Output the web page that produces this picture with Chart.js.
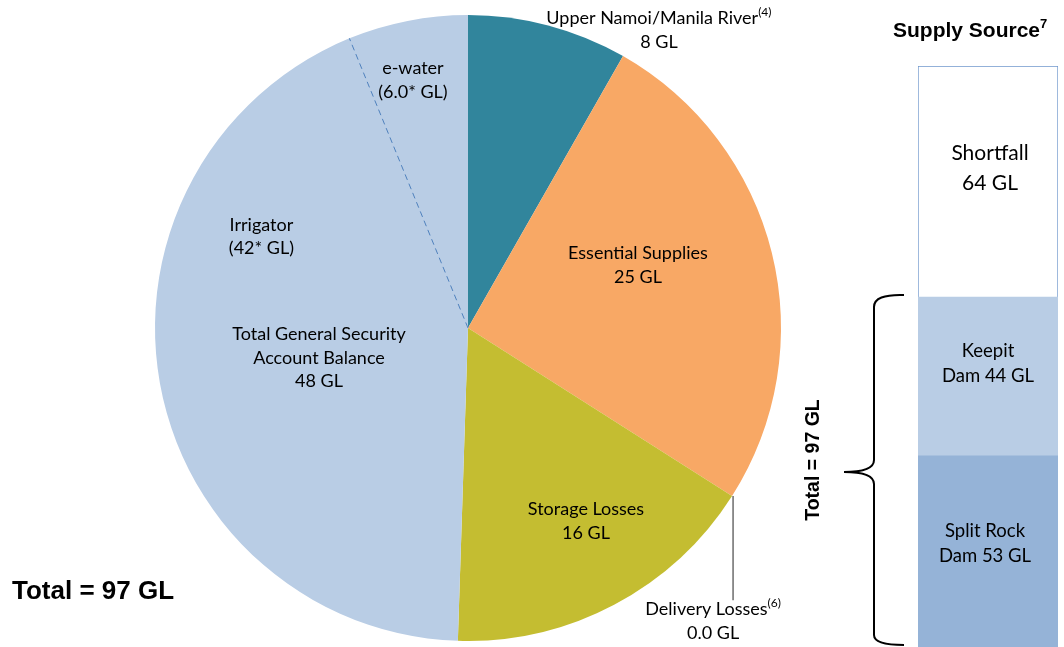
<!DOCTYPE html>
<html>
<head>
<meta charset="utf-8">
<script src="https://cdn.jsdelivr.net/npm/chart.js@4.4.1/dist/chart.umd.min.js"></script>
<style>
  body { margin: 0; background: #fff; }
  #wrap { position: relative; width: 1064px; height: 647px; overflow: hidden; }
  #pieCanvas { position: absolute; left: 0; top: 0; }
  #barCanvas { position: absolute; left: 800px; top: 0; }
</style>
</head>
<body>
<div id="wrap">
  <canvas id="pieCanvas" width="1064" height="647"></canvas>
  <canvas id="barCanvas" width="264" height="647"></canvas>
</div>
<script>
// pie data (GL)
const pieLabels = ['Upper Namoi/Manila River', 'Essential Supplies', 'Delivery Losses', 'Storage Losses', 'Total General Security Account Balance'];
const pieValues = [8, 25, 0.0, 16, 48];
const pieColors = ['#31859C', '#F8A865', '#F8A865', '#C4BD31', '#B9CDE5'];
// general security split
const irrigatorValue = 42;
const ewaterValue = 6.0;
const pieTotal = 97;

// supply source data (GL)
const sourceLabels = ['Split Rock Dam', 'Keepit Dam', 'Shortfall'];
const sourceValues = [53, 44, 64];
const sourceColors = ['#95B3D7', '#B9CDE5', '#FFFFFF'];

const FONT = 'Lato, "Open Sans", sans-serif';
const BOLD = 'Arial, "Liberation Sans", sans-serif';
const pieCanvas = document.getElementById('pieCanvas');
const barCanvas = document.getElementById('barCanvas');

// text helper, a line may be [text, superscript]
const drawLines = (ctx, lines, x, cy, lineH, size) => {
    const font = size + 'px ' + FONT;
    const supFont = Math.round(size * 0.66) + 'px ' + FONT;
    ctx.save();
    ctx.fillStyle = '#000';
    ctx.textBaseline = 'middle';
    lines.forEach((line, i) => {
        const y = cy + (i - (lines.length - 1) / 2) * lineH;
        const parts = typeof line === 'string' ? [line, ''] : line;
        ctx.font = font;
        const w1 = ctx.measureText(parts[0]).width;
        ctx.font = supFont;
        const w2 = ctx.measureText(parts[1]).width;
        const left = x - (w1 + w2) / 2;
        ctx.textAlign = 'left';
        ctx.font = font;
        ctx.fillText(parts[0], left, y);
        if (parts[1]) {
            ctx.font = supFont;
            ctx.fillText(parts[1], left + w1, y - 6);
        }
    });
    ctx.restore();
}

// label layout, offsets from pie centre in radius units
const pieText = [
    { lines: [['Upper Namoi/Manila River', '(4)'], pieValues[0] + ' GL'], dx: 0.61, dy: -0.952 },
    { lines: ['Essential Supplies', pieValues[1] + ' GL'], dx: 0.543, dy: -0.201 },
    { lines: [['Delivery Losses', '(6)'], pieValues[2].toFixed(1) + ' GL'], dx: 0.783, dy: 0.936 },
    { lines: ['Storage Losses', pieValues[3] + ' GL'], dx: 0.377, dy: 0.617 },
    { lines: ['Total General Security', 'Account Balance', pieValues[4] + ' GL'], dx: -0.476, dy: 0.096 },
    { lines: ['Irrigator', '(' + irrigatorValue + '* GL)'], dx: -0.66, dy: -0.291 },
    { lines: ['e-water', '(' + ewaterValue.toFixed(1) + '* GL)'], dx: -0.176, dy: -0.792 }
];

const pieExtras = {
    id: 'pieExtras',
    afterDatasetsDraw(chart) {
        const ctx = chart.ctx;
        const arcs = chart.getDatasetMeta(0).data;
        const cx = arcs[0].x;
        const cy = arcs[0].y;
        const r = arcs[0].outerRadius;

        // e-water split line
        const gs = arcs[4];
        const a = gs.endAngle - ewaterValue / pieTotal * Math.PI * 2;
        ctx.save();
        ctx.strokeStyle = '#4F81BD';
        ctx.lineWidth = 1;
        ctx.setLineDash([6, 4]);
        ctx.beginPath();
        ctx.moveTo(cx, cy);
        ctx.lineTo(cx + r * Math.cos(a), cy + r * Math.sin(a));
        ctx.stroke();
        ctx.restore();

        // delivery losses leader
        const dl = arcs[2];
        const lx = cx + r * Math.cos(dl.startAngle);
        const ly = cy + r * Math.sin(dl.startAngle);
        ctx.save();
        ctx.strokeStyle = '#555';
        ctx.lineWidth = 1.3;
        ctx.beginPath();
        ctx.moveTo(lx + 1, ly);
        ctx.lineTo(lx + 1, cy + 0.87 * r);
        ctx.stroke();
        ctx.restore();

        pieText.forEach((t) => {
            drawLines(ctx, t.lines, cx + t.dx * r, cy + t.dy * r, 23.5, 18);
        });

        ctx.save();
        ctx.font = 'bold 26px ' + BOLD;
        ctx.fillStyle = '#000';
        ctx.textAlign = 'left';
        ctx.textBaseline = 'middle';
        ctx.fillText('Total = ' + pieTotal + ' GL', 12, 592);
        ctx.restore();
    }
}

const pieChart = new Chart(pieCanvas, {
    type: 'pie',
    data: {
        labels: pieLabels,
        datasets: [{
            data: pieValues,
            backgroundColor: pieColors,
            borderWidth: 0
        }]
    },
    options: {
        responsive: false,
        animation: false,
        layout: { padding: { left: 155, top: 15, right: 283, bottom: 6 } },
        plugins: { legend: { display: false }, tooltip: { enabled: false } }
    },
    plugins: [pieExtras]
});

const barText = [
    { lines: ['Split Rock', 'Dam ' + sourceValues[0] + ' GL'], dx: -3, dy: -8, lineH: 25, size: 18.5 },
    { lines: ['Keepit', 'Dam ' + sourceValues[1] + ' GL'], dx: 0, dy: -13, lineH: 25, size: 18.5 },
    { lines: ['Shortfall', sourceValues[2] + ' GL'], dx: 2, dy: -13, lineH: 30, size: 21 }
];

const barExtras = {
    id: 'barExtras',
    afterDatasetsDraw(chart) {
        const ctx = chart.ctx;
        const yScale = chart.scales.y;
        chart.data.datasets.forEach((ds, i) => {
            const bar = chart.getDatasetMeta(i).data[0];
            const mid = (bar.y + bar.base) / 2;
            const t = barText[i];
            drawLines(ctx, t.lines, bar.x + t.dx, mid + t.dy, t.lineH, t.size);
        });

        // brace spanning the dam storage
        const top = yScale.getPixelForValue(sourceValues[0] + sourceValues[1]) - 2;
        const bottom = yScale.getPixelForValue(0);
        const mid = yScale.getPixelForValue((sourceValues[0] + sourceValues[1]) / 2);
        const bx = 74;
        ctx.save();
        ctx.strokeStyle = '#000';
        ctx.lineWidth = 2;
        ctx.beginPath();
        ctx.moveTo(bx + 30, top);
        ctx.quadraticCurveTo(bx, top - 1, bx, top + 12);
        ctx.lineTo(bx, mid - 12);
        ctx.quadraticCurveTo(bx, mid, bx - 30, mid);
        ctx.moveTo(bx - 30, mid);
        ctx.quadraticCurveTo(bx, mid, bx, mid + 12);
        ctx.lineTo(bx, bottom - 12);
        ctx.quadraticCurveTo(bx, bottom - 2, bx + 30, bottom - 2);
        ctx.stroke();

        ctx.translate(14, 460);
        ctx.rotate(-Math.PI / 2);
        ctx.font = 'bold 19.5px ' + BOLD;
        ctx.fillStyle = '#000';
        ctx.textAlign = 'center';
        ctx.textBaseline = 'middle';
        ctx.fillText('Total = ' + (sourceValues[0] + sourceValues[1]) + ' GL', 0, 0);
        ctx.restore();

        ctx.save();
        ctx.font = 'bold 21px ' + BOLD;
        ctx.fillStyle = '#000';
        ctx.textAlign = 'left';
        ctx.textBaseline = 'middle';
        const title = 'Supply Source';
        const w = ctx.measureText(title).width;
        ctx.fillText(title, 93, 31);
        ctx.font = 'bold 13px ' + BOLD;
        ctx.fillText('7', 93 + w, 24);
        ctx.restore();
    }
}

const barChart = new Chart(barCanvas, {
    type: 'bar',
    data: {
        labels: ['Supply Source'],
        datasets: sourceLabels.map((label, i) => ({
            label,
            data: [sourceValues[i]],
            backgroundColor: sourceColors[i],
            borderColor: i === 2 ? '#6F97CC' : sourceColors[i],
            borderWidth: i === 2 ? 1 : 0,
            barPercentage: 1,
            categoryPercentage: 1
        }))
    },
    options: {
        responsive: false,
        animation: false,
        layout: { padding: { left: 118, top: 66, right: 6, bottom: 0 } },
        scales: {
            x: { stacked: true, display: false },
            y: { stacked: true, display: false, min: 0, max: 161 }
        },
        plugins: { legend: { display: false }, tooltip: { enabled: false } }
    },
    plugins: [barExtras]
});
</script>
</body>
</html>
